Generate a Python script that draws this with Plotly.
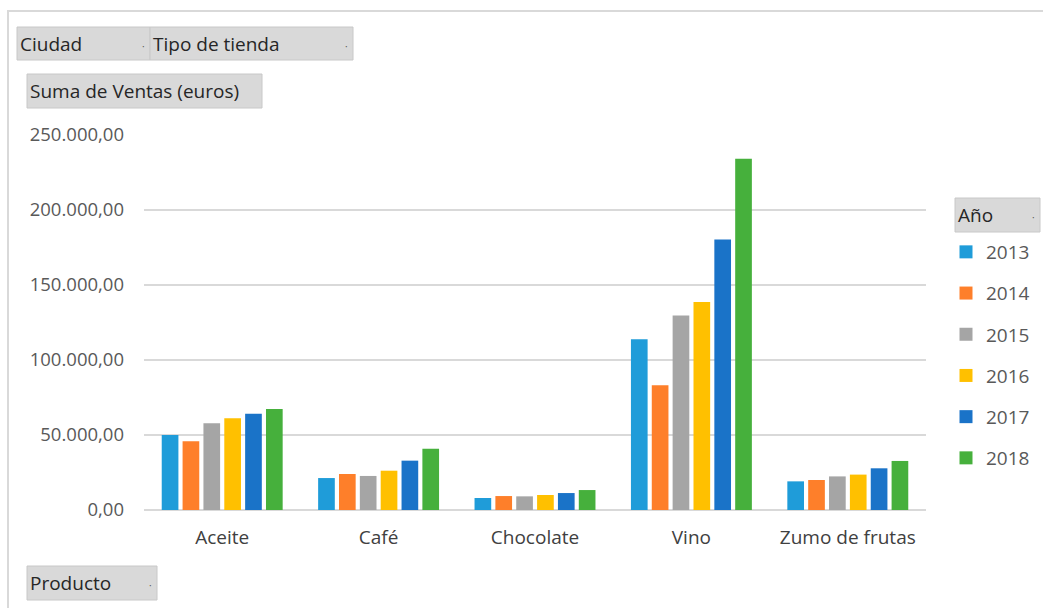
import plotly.graph_objects as go

productos = ["Aceite", "Café", "Chocolate", "Vino", "Zumo de frutas"]
anios = ["2013", "2014", "2015", "2016", "2017", "2018"]
v2013 = [50000, 21300, 8000, 113800, 19100]
v2014 = [45800, 24000, 9300, 83100, 20000]
v2015 = [57800, 22700, 9100, 129600, 22400]
v2016 = [61100, 26200, 10000, 138700, 23600]
v2017 = [64200, 32900, 11300, 180400, 27800]
v2018 = [67300, 40900, 13300, 234200, 32700]
series = [v2013, v2014, v2015, v2016, v2017, v2018]
colores = ["#1f9cd9", "#fe7f2a", "#a5a5a5", "#ffc000", "#1a73c8", "#46b03c"]
ticks = [0, 50000, 100000, 150000, 200000, 250000]

W, H = 1043, 608
L, R, T, B = 144, 926, 135, 510

def px(x):
    return (x - L) / (R - L)

def py(y):
    return (B - y) / (B - T)

FONT = "Open Sans"

fig = go.Figure()
for i, (a, vals) in enumerate(zip(anios, series)):
    fig.add_trace(go.Bar(
        x=productos, y=vals, name=a, marker_color=colores[i],
        marker_line_width=0, showlegend=False,
    ))
for i, a in enumerate(anios):
    fig.add_trace(go.Scatter(
        x=[None], y=[None], mode="markers", name=a, legendgroup=a,
        marker=dict(symbol="square", size=13, color=colores[i]),
    ))

shapes = []
annots = []
shapes.append(dict(type="rect", xref="paper", yref="paper",
                   x0=px(8), x1=px(1080), y0=py(11), y1=py(660),
                   line=dict(color="#d9d9d9", width=2), fillcolor="rgba(0,0,0,0)", layer="below"))

def button(x0, y0, x1, y1, text, dot=True):
    shapes.append(dict(type="rect", xref="paper", yref="paper",
                       x0=px(x0), x1=px(x1), y0=py(y0), y1=py(y1),
                       line=dict(color="#c8c8c8", width=1), fillcolor="#d9d9d9"))
    annots.append(dict(xref="paper", yref="paper", x=px(x0 + 1), y=py((y0 + y1) / 2),
                       text=text, showarrow=False, xanchor="left", yanchor="middle",
                       font=dict(family=FONT, size=19, color="#262626")))
    if dot:
        annots.append(dict(xref="paper", yref="paper", x=px(x1 - 7), y=py((y0 + y1) / 2 + 2),
                           text="·", showarrow=False, xanchor="center", yanchor="middle",
                           font=dict(family=FONT, size=10, color="#595959")))

button(17, 27, 150, 60, "Ciudad")
button(150, 27, 353, 60, "Tipo de tienda")
button(27, 74, 262, 108, "Suma de Ventas (euros)", dot=False)
button(955, 198, 1040, 232, "Año")
button(27, 566, 157, 600, "Producto")

fig.update_layout(
    width=W, height=H,
    margin=dict(l=L, r=W - R, t=T, b=H - B, pad=0, autoexpand=False),
    paper_bgcolor="white", plot_bgcolor="white",
    separators=",.",
    barmode="group", bargap=0.2, bargroupgap=0.2,
    font=dict(family=FONT, size=19, color="#595959"),
    shapes=shapes, annotations=annots,
    showlegend=True,
    legend=dict(xref="container", yref="container", x=946 / W, y=1 - 233 / H,
                xanchor="left", yanchor="top",
                font=dict(family=FONT, size=19, color="#595959"),
                tracegroupgap=13.5, traceorder="grouped", itemsizing="trace",
                bgcolor="rgba(0,0,0,0)", itemwidth=30),
    xaxis=dict(showgrid=False, showline=False, ticks="", tickfont=dict(color="#404040", size=19),
               ticklabelstandoff=14),
    yaxis=dict(range=[0, 250000], tickvals=ticks, tickformat=",.2f",
               gridcolor="#d9d9d9", gridwidth=2, zeroline=True, zerolinecolor="#d9d9d9",
               zerolinewidth=2, showline=False, ticks="", ticklabelstandoff=19,
               tickfont=dict(color="#595959", size=18.5)),
)

fig.write_html(
    "out.html",
    config={"displayModeBar": False},
    post_script="document.body.style.margin='0';document.body.style.overflow='hidden';",
)
